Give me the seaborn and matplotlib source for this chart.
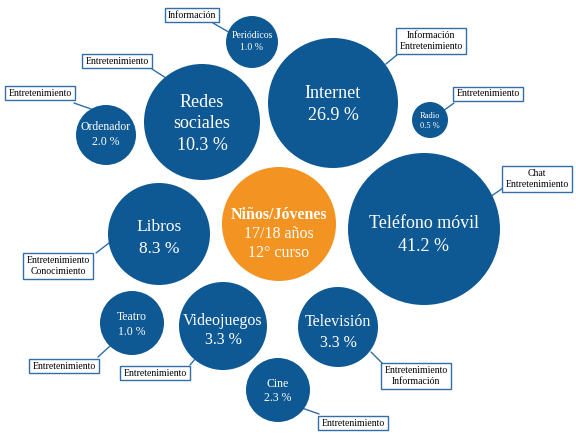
import matplotlib
matplotlib.use("Agg")
import matplotlib.pyplot as plt
import seaborn as sns
import pandas as pd

# ---- data ----
categories = ["Periódicos", "Internet", "Redes sociales", "Ordenador", "Radio",
              "Teléfono móvil", "Libros", "Niños/Jóvenes", "Teatro",
              "Videojuegos", "Televisión", "Cine"]
display_names = [["Periódicos"], ["Internet"], ["Redes", "sociales"], ["Ordenador"], ["Radio"],
                 ["Teléfono móvil"], ["Libros"], ["Niños/Jóvenes"], ["Teatro"],
                 ["Videojuegos"], ["Televisión"], ["Cine"]]
values = [["1.0 %"], ["26.9 %"], ["10.3 %"], ["2.0 %"], ["0.5 %"], ["41.2 %"], ["8.3 %"],
          ["17/18 años", "12° curso"], ["1.0 %"], ["3.3 %"], ["3.3 %"], ["2.3 %"]]
uses = ["Información", "Información\nEntretenimiento", "Entretenimiento",
        "Entretenimiento", "Entretenimiento", "Chat\nEntretenimiento",
        "Entretenimiento\nConocimiento", None, "Entretenimiento",
        "Entretenimiento", "Entretenimiento\nInformación", "Entretenimiento"]

# ---- layout (pixel coordinates) ----
cx = [252, 333, 202, 106, 430, 424, 159, 279, 132, 223, 338, 278]
cy = [42, 103, 122, 135, 120, 229, 234, 224, 323, 326, 327, 390]
rad = [26, 65, 58, 30, 18, 76, 51, 57, 32, 44, 40, 32]
fs = [7, 13, 13, 8.5, 6, 13, 12.5, 11.5, 8.5, 11.5, 11.5, 8.5]
line_y = [(35, 47), (94, 115), (102, 123, 145), (127, 142), (116, 126), (223, 246),
          (227, 249), (215, 234, 253), (317, 332), (321, 340), (322, 343), (384, 398)]
box_xy = [(192, 15), (431, 41), (117, 61), (40, 93), (488, 94), (537, 179),
          (58, 266), None, (64, 366), (155, 373), (416, 376), (353, 423)]
line_pts = [((213, 23), (232, 34)), ((398, 54), (386, 64)), ((152, 69), (166, 78)),
            ((74, 103), (91, 109)), ((454, 103), (443, 111)), ((503, 188), (490, 197)),
            ((96, 253), (109, 243)), None, ((98, 357), (110, 346)),
            ((190, 365), (196, 358)), ((383, 364), (371, 352)), ((319, 414), (302, 408))]

BLUE = "#0e5893"
ORANGE = "#f39321"
EDGE = "#2f6ea7"

df = pd.DataFrame({"cat": categories, "x": cx, "y": cy})
dpi = 100
sizes = {c: (2 * r * 72 / dpi) ** 2 for c, r in zip(categories, rad)}
palette = {c: (ORANGE if c == "Niños/Jóvenes" else BLUE) for c in categories}

sns.set_theme(style="white")
plt.rcParams["font.family"] = ["Liberation Serif", "DejaVu Serif"]

fig = plt.figure(figsize=(5.76, 4.36), dpi=dpi)
ax = fig.add_axes([0, 0, 1, 1])
sns.scatterplot(data=df, x="x", y="y", hue="cat", size="cat", sizes=sizes,
                palette=palette, legend=False, linewidth=0, alpha=1, ax=ax, zorder=2)
ax.set_xlim(0, 576)
ax.set_ylim(436, 0)
ax.set_axis_off()

for i, c in enumerate(categories):
    lines = display_names[i] + values[i]
    for j, (txt, yy) in enumerate(zip(lines, line_y[i])):
        bold = (c == "Niños/Jóvenes" and j == 0)
        ax.text(cx[i], yy, txt, ha="center", va="center", color="white",
                fontsize=fs[i], fontweight="bold" if bold else "normal", zorder=3)
    if uses[i] is not None:
        (x0, y0), (x1, y1) = line_pts[i]
        ax.plot([x0, x1], [y0, y1], color=EDGE, lw=1, zorder=1)
        bx, by = box_xy[i]
        ax.text(bx, by, uses[i], ha="center", va="center", fontsize=7,
                color="black", linespacing=1.2, zorder=4,
                bbox=dict(boxstyle="square,pad=0.3", fc="white", ec=EDGE, lw=1))

fig.savefig("out.png", dpi=dpi)
